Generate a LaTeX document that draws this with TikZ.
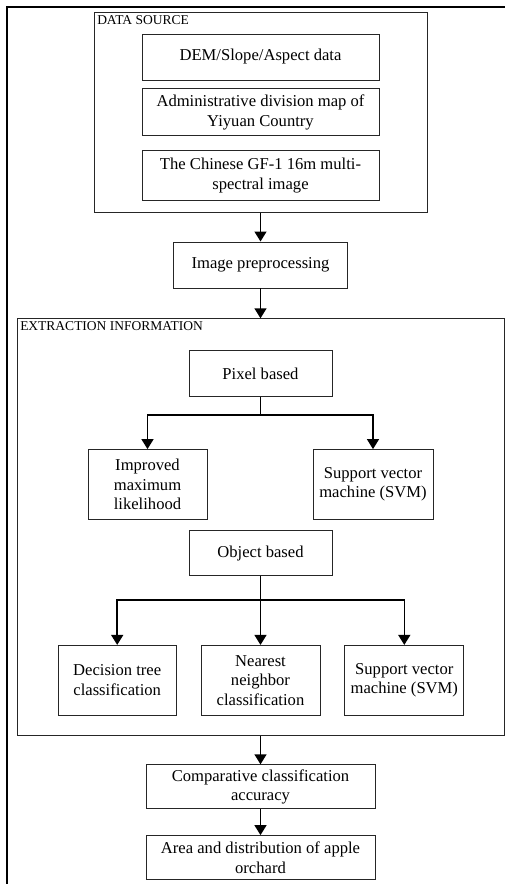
\documentclass[tikz,border=0pt]{standalone}
\usepackage{fontspec}
\setmainfont{Liberation Serif}
\usetikzlibrary{arrows.meta,positioning}
\tikzstyle{bx}=[draw=black!85,line width=0.8pt,align=center,inner sep=2pt,font=\fontsize{16.6pt}{19.5pt}\selectfont]
\tikzstyle{grp}=[draw=black!85,line width=1pt]
\tikzstyle{lbl}=[inner sep=3pt,font=\fontsize{13.5pt}{15pt}\selectfont]

\begin{document}
\begin{tikzpicture}[
      x=1pt,y=1pt,
      >={Triangle[length=10pt,width=12pt]},
      line width=1.5pt
    ]
    \useasboundingbox (0,0) rectangle (505,-884);
    % page frame
    \draw[line width=2pt] (505,-7) -- (7,-7) -- (7,-884);

    % data source
    \node [grp,minimum width=333pt,minimum height=200pt] (ds) at (260.5,-112) {};
    \node [lbl,anchor=north west] (dsl) at (ds.north west) {DATA SOURCE};
    \node [bx,minimum width=237pt,minimum height=46pt] (dem) at (260.5,-57) {DEM/Slope/Aspect data};
    \node [bx,minimum width=237pt,minimum height=47pt,below=8pt of dem] (adm) {Administrative division map of\\Yiyuan Country};
    \node [bx,minimum width=237pt,minimum height=50pt,below=14pt of adm] (gf) {The Chinese GF-1 16m multi-\\spectral image};

    \node [bx,minimum width=174pt,minimum height=46pt,below=29pt of ds] (prep) {Image preprocessing};

    % extraction information
    \node [grp,minimum width=487pt,minimum height=417pt,below=30pt of prep] (ext) {};
    \node [lbl,anchor=north west] (extl) at (ext.north west) {EXTRACTION INFORMATION};
    \node [bx,minimum width=143pt,minimum height=46pt,below=32pt of ext.north] (pix) {Pixel based};
    \node [bx,minimum width=119pt,minimum height=70pt,below=52pt of pix,xshift=-113pt] (ml) {Improved\\maximum\\likelihood};
    \node [bx,minimum width=120pt,minimum height=70pt,below=52pt of pix,xshift=112.5pt] (svma) {Support vector\\machine (SVM)};
    \node [bx,minimum width=143pt,minimum height=45pt,below=133pt of pix] (obj) {Object based};
    \node [bx,minimum width=119pt,minimum height=70pt,below=69pt of obj] (nn) {Nearest\\neighbor\\classification};
    \node [bx,minimum width=118pt,minimum height=70pt,left=24pt of nn] (dt) {Decision tree\\classification};
    \node [bx,minimum width=119pt,minimum height=70pt,right=24pt of nn] (svmb) {Support vector\\machine (SVM)};

    % results
    \node [bx,minimum width=229pt,minimum height=44pt,below=28pt of ext] (acc) {Comparative classification\\accuracy};
    \node [bx,minimum width=229pt,minimum height=44pt,below=26pt of acc] (area) {Area and distribution of apple\\orchard};

    \draw[->] (ds) -- (prep);
    \draw[->] (prep) -- (ext);
    \draw[->] (pix.south) -- ++(0,-18) -| (ml);
    \draw[->] (pix.south) -- ++(0,-18) -| (svma);
    \draw[->] (obj.south) -- ++(0,-24) -| (dt);
    \draw[->] (obj) -- (nn);
    \draw[->] (obj.south) -- ++(0,-24) -| (svmb);
    \draw[->] (ext) -- (acc);
    \draw[->] (acc) -- (area);
\end{tikzpicture}
\end{document}
